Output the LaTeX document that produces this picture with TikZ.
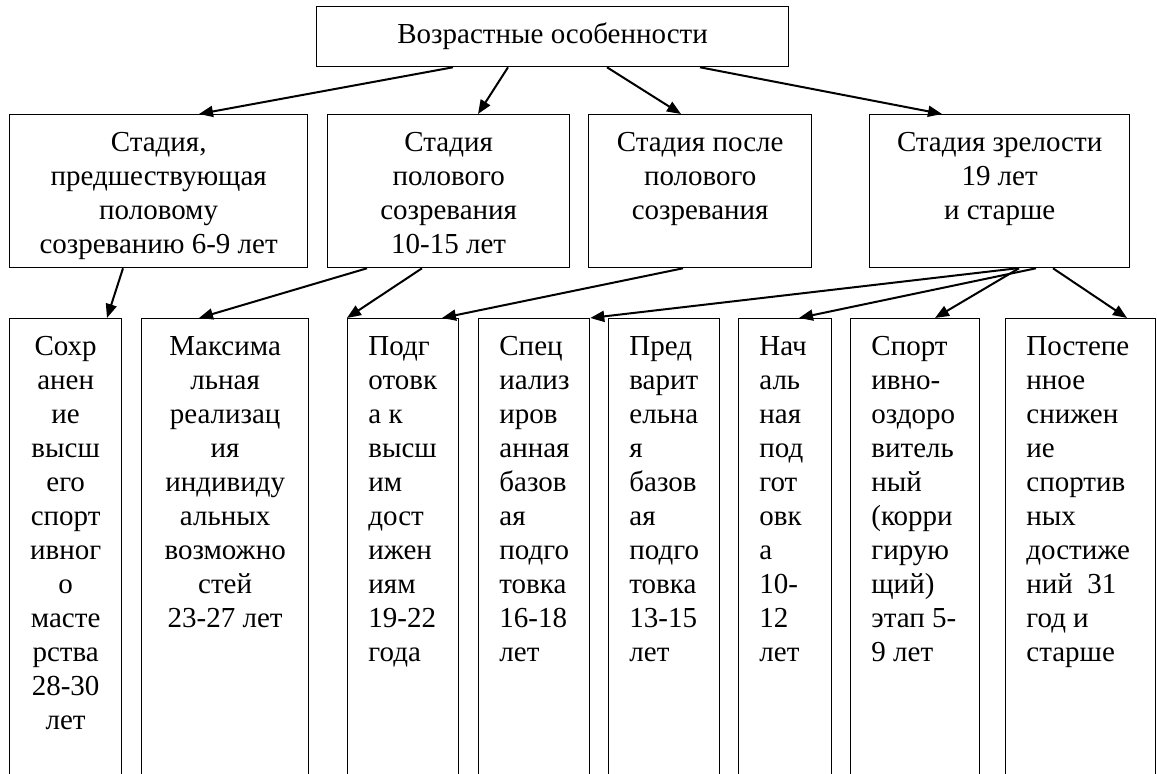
\documentclass[tikz,border=0pt]{standalone}
\usepackage{fontspec}
\setmainfont{Liberation Serif}
\usetikzlibrary{arrows.meta,calc}

\begin{document}
\begin{tikzpicture}[x=0.5pt,y=-0.5pt,
  font=\fontsize{14.5}{17}\selectfont,
  stagebox/.style={draw,line width=0.65pt,anchor=north west,inner sep=0pt},
  boxtext/.style={anchor=north,yshift=-9pt,align=center,inner sep=0pt,
    execute at begin node={\rule{0pt}{10.5pt}}},
  boxtextl/.style={anchor=north west,xshift=10.5pt,yshift=-9pt,align=left,inner sep=0pt,
    execute at begin node={\rule{0pt}{10.5pt}}},
  link/.style={line width=1pt,-{Triangle[length=7pt,width=5.5pt]}}]

\useasboundingbox (0,0) rectangle (1157,774);
\clip (0,0) rectangle (1157,774);

% top box
\node[stagebox,minimum width=236pt,minimum height=30pt] (age) at (316,6)
  {Возрастные особенности};

% stages
\node[stagebox,minimum width=149pt,minimum height=76.5pt,
  label={[boxtext]north:{Стадия,\\предшествующая\\половому\\созреванию 6-9 лет}}]
  (pre) at (9,114) {};
\node[stagebox,minimum width=121pt,minimum height=76.5pt,
  label={[boxtext]north:{Стадия\\полового\\созревания\\10-15 лет}}]
  (puberty) at (327,114) {};
\node[stagebox,minimum width=111.5pt,minimum height=76.5pt,
  label={[boxtext]north:{Стадия после\\полового\\созревания}}]
  (post) at (588,114) {};
\node[stagebox,minimum width=130pt,minimum height=76.5pt,
  label={[boxtext]north:{Стадия зрелости\\19 лет\\и старше}}]
  (mature) at (869,114) {};

% stages of training (open at the bottom)
\node[stagebox,minimum width=56pt,minimum height=236pt,
  label={[boxtext]north:{Сохр\\анен\\ие\\высш\\его\\спорт\\ивног\\о\\масте\\рства\\28-30\\лет}}]
  (keep) at (9,318) {};
\node[stagebox,minimum width=83.5pt,minimum height=236pt,
  label={[boxtext]north:{Максима\\льная\\реализац\\ия\\индивиду\\альных\\возможно\\стей\\23-27 лет}}]
  (peak) at (141,318) {};
\node[stagebox,minimum width=55.5pt,minimum height=236pt,
  label={[boxtextl]north west:{Подг\\отовк\\а к\\высш\\им\\дост\\ижен\\иям\\19-22\\года}}]
  (top) at (347,318) {};
\node[stagebox,minimum width=55.5pt,minimum height=236pt,
  label={[boxtextl]north west:{Спец\\иализ\\иров\\анная\\базов\\ая\\подго\\товка\\16-18\\лет}}]
  (special) at (478,318) {};
\node[stagebox,minimum width=55.5pt,minimum height=236pt,
  label={[boxtextl]north west:{Пред\\варит\\ельна\\я\\базов\\ая\\подго\\товка\\13-15\\лет}}]
  (basic) at (608,318) {};
\node[stagebox,minimum width=46.5pt,minimum height=236pt,
  label={[boxtextl]north west:{Нач\\аль\\ная\\под\\гот\\овк\\а\\10-\\12\\лет}}]
  (initial) at (738,318) {};
\node[stagebox,minimum width=64.5pt,minimum height=236pt,
  label={[boxtextl]north west:{Спорт\\ивно-\\оздоро\\витель\\ный\\(корри\\гирую\\щий)\\этап 5-\\9 лет}}]
  (health) at (850,318) {};
\node[stagebox,minimum width=75pt,minimum height=236pt,
  label={[boxtextl]north west:{Постепе\\нное\\снижен\\ие\\спортив\\ных\\достиже\\ний~~31\\год и\\старше}}]
  (decline) at (1005,318) {};

% arrows from the top box
\draw[link] ($(age.south west)+(137,0)$) -- ($(pre.north west)+(190,0)$);
\draw[link] ($(age.south west)+(192,0)$) -- ($(puberty.north west)+(151,0)$);
\draw[link] ($(age.south west)+(291,0)$) -- ($(post.north west)+(93,0)$);
\draw[link] ($(age.south west)+(384,0)$) -- ($(mature.north west)+(73,0)$);

% arrows to the stages of training
\draw[link] ($(pre.south west)+(114,0)$) -- ($(keep.north west)+(98,0)$);
\draw[link] ($(puberty.south west)+(40,0)$) -- ($(peak.north west)+(58,0)$);
\draw[link] ($(puberty.south west)+(95,0)$) -- (top.north west);
\draw[link] ($(post.south west)+(95,0)$) -- ($(top.north west)+(95,0)$);
\draw[link] ($(mature.south west)+(148,0)$) -- (special.north east);
\draw[link] ($(mature.south west)+(167,0)$) -- ($(initial.north west)+(61,0)$);
\draw[link] ($(mature.south west)+(150,0)$) -- ($(health.north west)+(85,0)$);
\draw[link] ($(mature.south west)+(184,0)$) -- ($(decline.north west)+(122,0)$);

\end{tikzpicture}
\end{document}
